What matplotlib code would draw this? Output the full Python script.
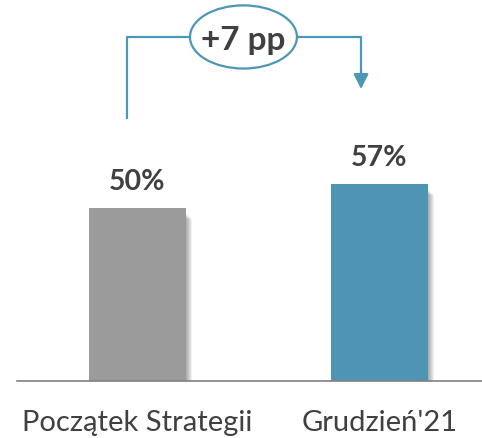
import matplotlib.pyplot as plt
from matplotlib.patches import Ellipse, Rectangle

plt.rcParams['font.family'] = ['Lato', 'DejaVu Sans']

categories = ['Początek Strategii', "Grudzień'21"]
values = [50, 57]
value_labels = ['50%', '57%']
change_label = '+7 pp'
bar_colors = ['#9b9b9b', '#4f94b3']
line_color = '#4d96b6'
text_color = '#404040'

fig = plt.figure(figsize=(4.82, 4.39), dpi=100)
ax = fig.add_axes([17 / 482, 57 / 439, 465 / 482, 382 / 439])
ax.set_xlim(-0.498, 1.424)
ax.set_ylim(0, 110.7)

x = list(range(len(categories)))
w = 0.4

# soft shadow on the right of the bars
for i, v in zip(x, values):
    for k in range(6):
        ax.add_patch(Rectangle((i - w / 2 + 0.006 + k * 0.004, 0), w, v - 1.5 - k * 0.3,
                               color='black', alpha=0.06, lw=0, zorder=1))

ax.bar(x, values, width=w, color=bar_colors, zorder=2)

for i, v, lab in zip(x, values, value_labels):
    ax.text(i, v + 5.5, lab, ha='center', va='baseline', fontsize=20.5,
            fontweight='bold', color=text_color)

# bracket with arrow
y_top = 99.7
ex, ew, eh = 0.438, 0.442, 18.3
ax.plot([-0.043, -0.043, ex - ew / 2], [75.9, y_top, y_top], color=line_color, lw=1.6,
        solid_capstyle='butt', zorder=3)
ax.plot([ex + ew / 2, 0.924, 0.924], [y_top, y_top, 89], color=line_color, lw=1.6, zorder=3)
ax.annotate('', xy=(0.924, 84.6), xytext=(0.924, 90),
            arrowprops=dict(arrowstyle='-|>,head_length=0.9,head_width=0.45',
                            color=line_color, lw=1.6, shrinkA=0, shrinkB=0))
ax.add_patch(Ellipse((ex, y_top), ew, eh, facecolor='white', edgecolor=line_color,
                     lw=1.6, zorder=4))
ax.text(ex, y_top - 0.8, change_label, ha='center', va='center', fontsize=24,
        fontweight='bold', color=text_color, zorder=5)

ax.set_xticks(x)
ax.set_xticklabels(categories, fontsize=21, color=text_color)
ax.tick_params(axis='x', length=0, pad=20)
ax.set_yticks([])
for s in ['top', 'right', 'left']:
    ax.spines[s].set_visible(False)
ax.spines['bottom'].set_color('#808080')
ax.spines['bottom'].set_linewidth(1.2)

fig.savefig('out.png', dpi=100)
